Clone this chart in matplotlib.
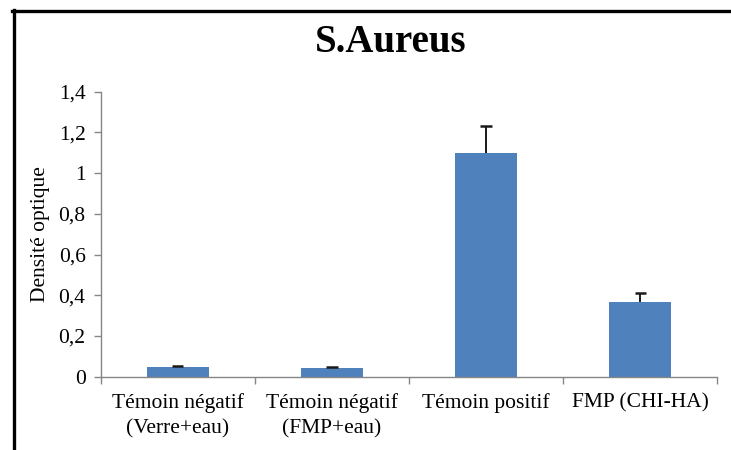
import numpy as np
import matplotlib
matplotlib.use("Agg")
from matplotlib import pyplot as plt
from matplotlib.lines import Line2D
from matplotlib.ticker import FuncFormatter

groups = ["Témoin négatif\n(Verre+eau)", "Témoin négatif\n(FMP+eau)",
          "Témoin positif", "FMP (CHI-HA)"]
densite = np.array([0.049, 0.041, 1.098, 0.367])
erreur = np.array([0.002, 0.004, 0.135, 0.042])
y_ticks = [0, 0.2, 0.4, 0.6, 0.8, 1.0, 1.2, 1.4]

plt.rcParams['font.family'] = ['Liberation Serif', 'DejaVu Serif']

fig = plt.figure(figsize=(7.31, 4.5), dpi=100)
ax = fig.add_axes([0.138, 0.163, 0.843, 0.633])

x = np.arange(len(groups))
ax.bar(x, densite, width=0.4, color="#4F81BD", zorder=2)
# upper error bars only: stem + cap
ax.vlines(x, densite, densite + erreur, color="#1a1a1a", linewidth=1.4, zorder=3)
ax.hlines(densite + erreur, x - 0.036, x + 0.036, color="#1a1a1a",
          linewidth=1.8, zorder=3)

ax.set_xlim(-0.5, len(groups) - 0.5)
ax.set_ylim(0, 1.4)
ax.set_yticks(y_ticks)
ax.yaxis.set_major_formatter(FuncFormatter(
    lambda v, p: ("%g" % round(v, 1)).replace(".", ",")))

# category labels between boundary ticks
ax.set_xticks(np.arange(len(groups) + 1) - 0.5)
ax.set_xticklabels([])
ax.set_xticks(x, minor=True)
ax.set_xticklabels(groups, minor=True, fontsize=15.5, linespacing=1.45)
ax.tick_params(axis="x", which="minor", length=0, pad=12)
ax.tick_params(axis="x", which="major", length=5, color="#868686", width=1)
ax.tick_params(axis="y", length=5, color="#868686", width=1, labelsize=15.5, pad=6)

for side in ["top", "right"]:
    ax.spines[side].set_visible(False)
for side in ["left", "bottom"]:
    ax.spines[side].set_color("#868686")
    ax.spines[side].set_linewidth(1)

ax.set_ylabel("Densité optique", fontsize=15.5, labelpad=6)
fig.text(0.535, 0.905, "S.Aureus", ha="center", va="center",
         fontsize=28, fontweight="bold")

# chart frame (left and top edges)
fig.add_artist(Line2D([0.0187, 0.0187], [0, 0.9767], transform=fig.transFigure,
                      color="black", linewidth=2.4))
fig.add_artist(Line2D([0.0167, 1.0], [0.9747, 0.9747], transform=fig.transFigure,
                      color="black", linewidth=2.4))

fig.savefig("out.png", dpi=100)
